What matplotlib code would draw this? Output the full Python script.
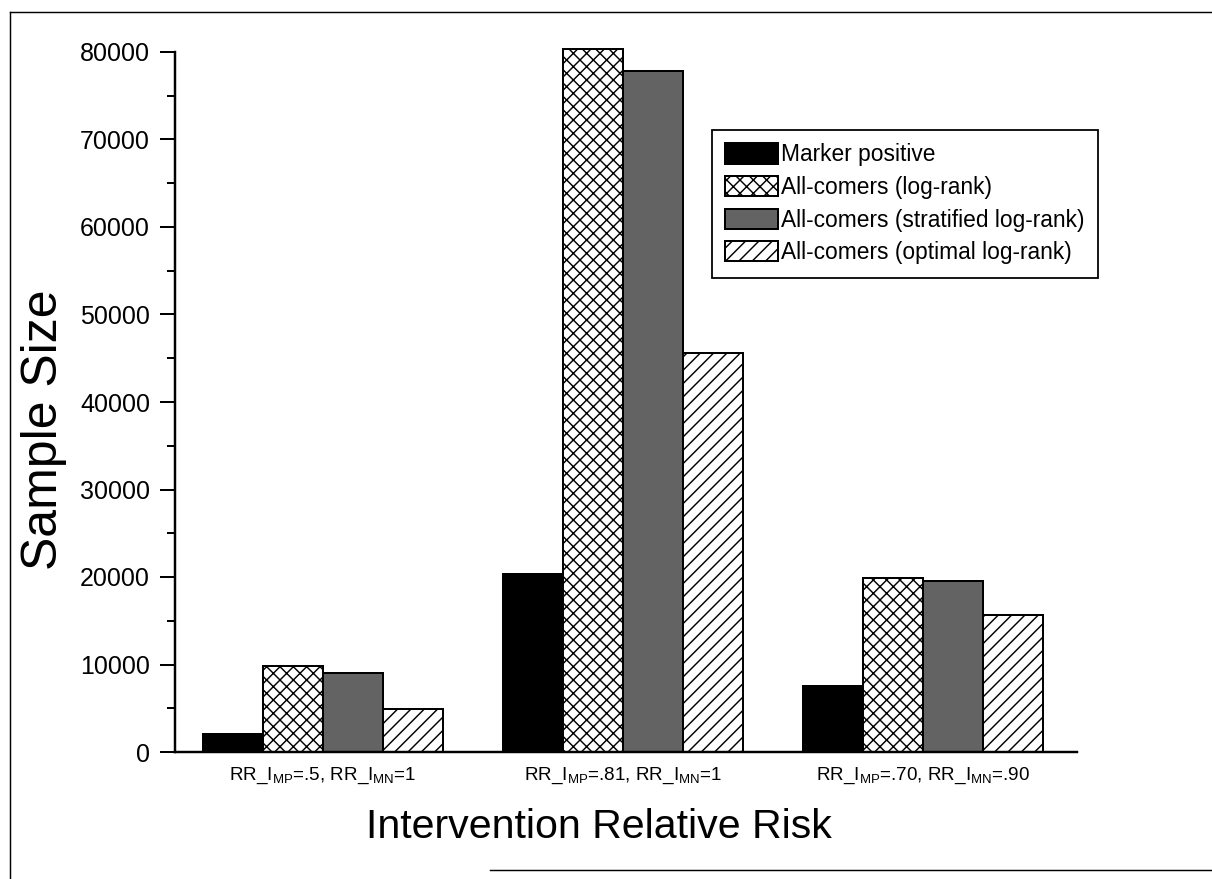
import matplotlib
matplotlib.use('Agg')
import matplotlib.pyplot as plt
import numpy as np
from matplotlib.lines import Line2D

plt.rcParams['font.family'] = ['Liberation Sans', 'DejaVu Sans']
plt.rcParams['mathtext.fontset'] = 'custom'
plt.rcParams['mathtext.rm'] = 'Liberation Sans'
plt.rcParams['mathtext.it'] = 'Liberation Sans:italic'
plt.rcParams['mathtext.bf'] = 'Liberation Sans:bold'
plt.rcParams['hatch.linewidth'] = 1.3

# ---- data ----
categories = [r"RR_I$_{\mathrm{MP}}$=.5, RR_I$_{\mathrm{MN}}$=1",
              r"RR_I$_{\mathrm{MP}}$=.81, RR_I$_{\mathrm{MN}}$=1",
              r"RR_I$_{\mathrm{MP}}$=.70, RR_I$_{\mathrm{MN}}$=.90"]
series_names = ["Marker positive",
                "All-comers (log-rank)",
                "All-comers (stratified log-rank)",
                "All-comers (optimal log-rank)"]
marker_positive = [2100, 20300, 7500]
log_rank = [9800, 80300, 19900]
stratified_log_rank = [9000, 77800, 19500]
optimal_log_rank = [4900, 45600, 15700]
y_ticks = [0, 10000, 20000, 30000, 40000, 50000, 60000, 70000, 80000]

series_values = [marker_positive, log_rank, stratified_log_rank, optimal_log_rank]
styles = [dict(facecolor='black', hatch=None),
          dict(facecolor='white', hatch='xx'),
          dict(facecolor='#636363', hatch=None),
          dict(facecolor='white', hatch='//')]

DPI = 80
fig = plt.figure(figsize=(1212 / DPI, 879 / DPI), dpi=DPI)
ax = fig.add_axes([175 / 1212, 1 - 752 / 879, (1077 - 175) / 1212, 700 / 879])

x = np.arange(len(categories))
width = 0.2
offsets = [-0.3, -0.1, 0.1, 0.3]
handles = []
for vals, off, st, name in zip(series_values, offsets, styles, series_names):
    b = ax.bar(x + off, vals, width=width, facecolor=st['facecolor'], hatch=st['hatch'],
               edgecolor='black', linewidth=1.8, label=name, clip_on=False, zorder=2)
    handles.append(b)

ax.set_xlim(-0.493, 2.513)
ax.set_ylim(0, 80000)
ax.set_yticks(y_ticks)
ax.set_yticks([5000 + t for t in y_ticks[:-1]], minor=True)
ax.set_xticks(x)
ax.set_xticklabels(categories)

ax.tick_params(axis='y', which='major', direction='out', length=13.5, width=1.8,
               labelsize=22.5, pad=9)
ax.tick_params(axis='y', which='minor', direction='out', length=7, width=1.8)
ax.tick_params(axis='x', length=0, pad=12, labelsize=17)

for s in ['top', 'right']:
    ax.spines[s].set_visible(False)
for s in ['left', 'bottom']:
    ax.spines[s].set_linewidth(2.2)

ax.set_ylabel('Sample Size', fontsize=45)
ax.yaxis.set_label_coords(-0.12, 0.46)
ax.set_xlabel('Intervention Relative Risk', fontsize=37)
ax.xaxis.set_label_coords(0.47, -0.08)

leg = ax.legend(handles=handles, loc='upper left', bbox_to_anchor=(0.595, 0.889),
                fontsize=20.5, frameon=True, fancybox=False, framealpha=1,
                edgecolor='black', handlelength=2.3, handleheight=1.0,
                handletextpad=0.15, labelspacing=0.42, borderpad=0.6, borderaxespad=0)
leg.get_frame().set_linewidth(1.6)

# page frame lines from the scanned figure
fig.add_artist(Line2D([10 / 1212, 10 / 1212], [0, 1 - 12 / 879], transform=fig.transFigure,
                      color='black', lw=1.3))
fig.add_artist(Line2D([10 / 1212, 1], [1 - 12 / 879, 1 - 12 / 879], transform=fig.transFigure,
                      color='black', lw=1.3))
fig.add_artist(Line2D([490 / 1212, 1], [1 - 870 / 879, 1 - 870 / 879], transform=fig.transFigure,
                      color='black', lw=1.3))

fig.savefig('out.png', dpi=DPI, facecolor='white')
